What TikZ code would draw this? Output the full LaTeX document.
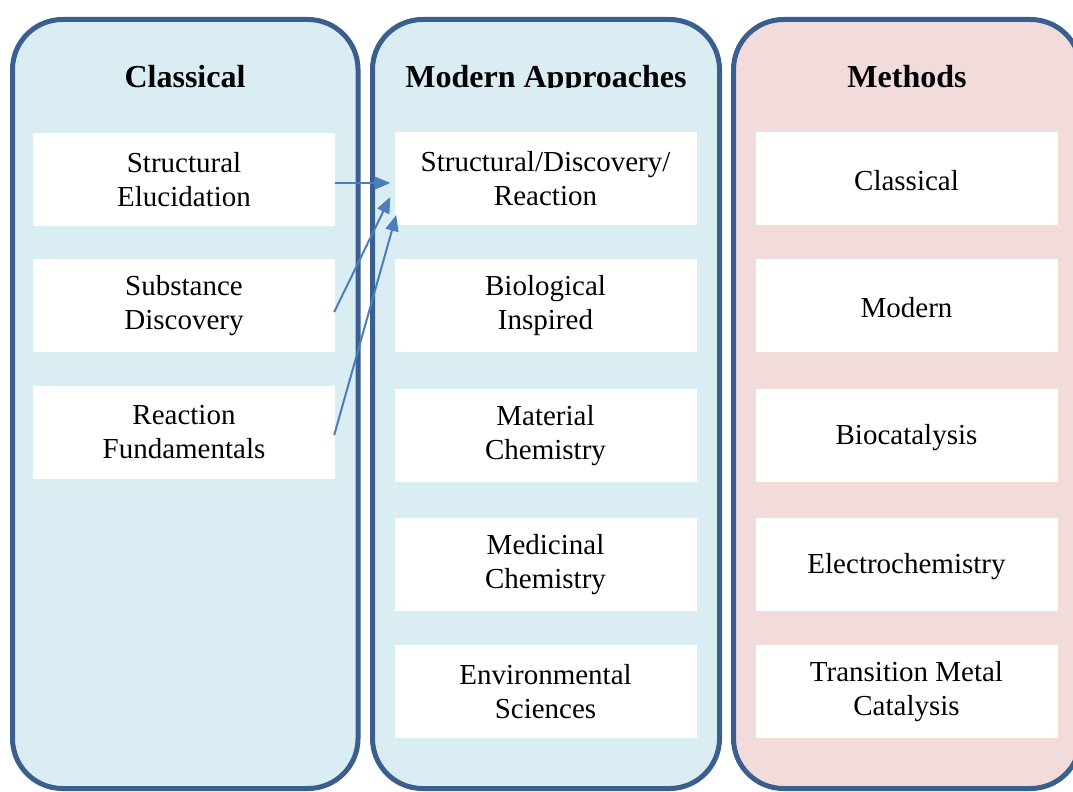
\documentclass[tikz,border=0pt]{standalone}
\usepackage{fontspec}
\setmainfont{Liberation Serif}
\usetikzlibrary{arrows.meta,calc}

\definecolor{colborder}{HTML}{3A5F8E}
\definecolor{colblue}{HTML}{DAEDF3}
\definecolor{colpink}{HTML}{F2DBDB}
\definecolor{arrowblue}{HTML}{4A7EBB}

\tikzset{
  column/.style={draw=colborder, line width=5pt, rounded corners=50pt},
  item/.style={fill=white, inner sep=0pt, minimum width=302pt, minimum height=93pt,
    align=center, font=\fontsize{29}{34}\selectfont,
    execute at begin node={\rule{0pt}{24pt}}},
  heading/.style={anchor=base, inner sep=0pt, font=\fontsize{32}{36}\selectfont\bfseries},
  link/.style={draw=arrowblue, line width=2pt, -{Triangle[length=16pt,width=13pt]}},
}

\begin{document}
\begin{tikzpicture}[x=1pt,y=-1pt]
\useasboundingbox (0,0) rectangle (1073,792);
\clip (0,0) rectangle (1073,792);

% three columns
\path[column, fill=colblue] (12.5,19.5) rectangle (358,788.5);
\path[column, fill=colblue] (372.5,19.5) rectangle (719.5,788.5);
\path[column, fill=colpink] (733.5,19.5) rectangle (1080.5,788.5);

% headings
\node[heading] (hc) at (185,87) {Classical};
\begin{scope}
  \clip (372,40) rectangle (720,87.5);
  \node[heading] (hm) at (546,87) {Modern Approaches};
\end{scope}
\node[heading] (hr) at (907,87) {Methods};

% classical items
\node[item] (l1) at (184,179.5) {Structural\\Elucidation};
\node[item] (l2) at (184,305.5) {Substance\\Discovery};
\node[item] (l3) at (184,432.5) {Reaction\\Fundamentals};

% modern approaches
\node[item] (m1) at (545.5,178.5) {Structural/Discovery/\\Reaction};
\node[item] (m2) at (545.5,305.5) {Biological\\Inspired};
\node[item] (m3) at (545.5,435.5) {Material\\Chemistry};
\node[item] (m4) at (545.5,564.5) {Medicinal\\Chemistry};
\node[item] (m5) at (545.5,691.5) {Environmental\\Sciences};

% methods
\node[item] (r1) at (906.5,178.5) {Classical};
\node[item] (r2) at (906.5,305.5) {Modern};
\node[item] (r3) at (906.5,435.5) {Biocatalysis};
\node[item] (r4) at (906.5,564.5) {Electrochemistry};
\node[item] (r5) at (906.5,691.5) {Transition Metal\\Catalysis};

% links from classical topics into the combined modern box
\coordinate (s1) at ($(l1.east)+(0,3.5)$);
\coordinate (s2) at ($(l2.east)+(-1,6.5)$);
\coordinate (s3) at ($(l3.east)+(-1,2.5)$);
\coordinate (t1) at ($(m1.west)+(-4,4.5)$);
\coordinate (t2) at ($(m1.west)+(-4,18.5)$);
\coordinate (t3) at ($(m1.west)+(2,36.5)$);
\draw[link] (s1) -- (t1);
\draw[link] (s2) -- (t2);
\draw[link] (s3) -- (t3);
\end{tikzpicture}
\end{document}
